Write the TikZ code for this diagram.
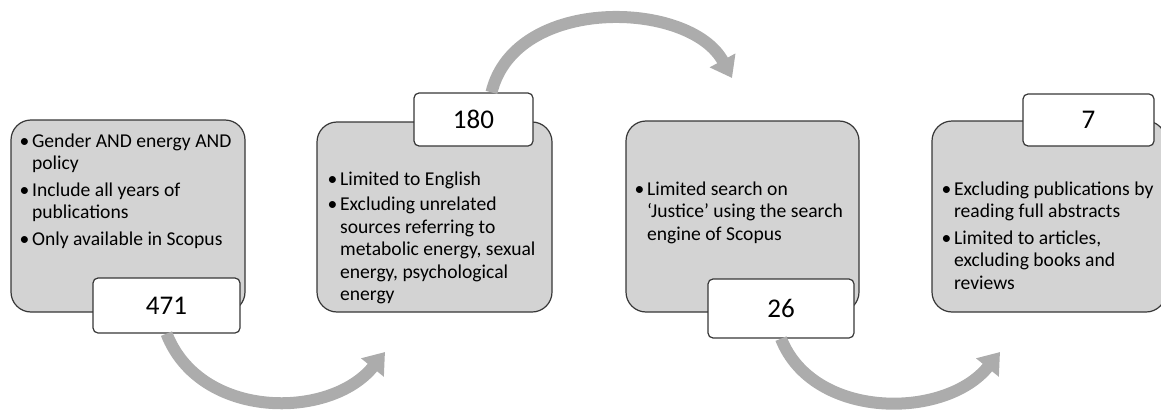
\documentclass[tikz,border=0pt]{standalone}
\usepackage{fontspec}
\setmainfont{Carlito}
\usetikzlibrary{arrows.meta,calc}
\definecolor{stagefill}{RGB}{211,211,211}
\definecolor{stageline}{RGB}{55,55,55}
\definecolor{flowgray}{RGB}{172,172,172}
\newcommand\bul[1]{\makebox[12.5pt][l]{\textbullet}\begin{tabular}[t]{@{}l@{}}#1\end{tabular}}
\tikzset{
  stage/.style ={draw=stageline, fill=stagefill, line width=1.2pt, rounded corners=20pt, inner sep=0pt},
  count/.style ={draw=stageline, fill=white, line width=1.2pt, rounded corners=5pt, inner sep=0pt, font=\fontsize{27}{30}\selectfont},
  note/.style  ={align=left, inner sep=0pt, anchor=north west, font=\fontsize{19.6}{22.5}\selectfont},
  flow/.style  ={draw=flowgray, line width=12pt, -{Triangle[length=20pt,width=28pt]}},
}

\begin{document}
\begin{tikzpicture}[x=1pt,y=-1pt]
  \useasboundingbox (0,0) rectangle (1161,412);
  \clip (0,0) rectangle (1161,412);
  % stages
  \node[stage, minimum width=234pt, minimum height=192pt] (s1) at (128,216) {};
  \node[stage, minimum width=235pt, minimum height=190pt] (s2) at (434.5,217) {};
  \node[stage, minimum width=233pt, minimum height=191pt] (s3) at (742.5,216.5) {};
  \node[stage, minimum width=234pt, minimum height=191pt] (s4) at (1049,216.5) {};
  % texts
  \node[note] (t1) at ($(s1.north west)+(9,12)$)
    {\bul{Gender AND energy AND\\policy}\\[3pt]
     \bul{Include all years of\\publications}\\[3pt]
     \bul{Only available in Scopus}};
  \node[note] (t2) at ($(s2.north west)+(11,48)$)
    {\bul{Limited to English}\\[3pt]
     \bul{Excluding unrelated\\sources referring to\\metabolic energy, sexual\\energy, psychological\\energy}};
  \node[note] (t3) at ($(s3.north west)+(9,59)$)
    {\bul{Limited search on\\`Justice' using the search\\engine of Scopus}};
  \node[note] (t4) at ($(s4.north west)+(10,59)$)
    {\bul{Excluding publications by\\reading full abstracts}\\[3pt]
     \bul{Limited to articles,\\excluding books and\\reviews}};
  % counts
  \node[count, minimum width=147pt, minimum height=55pt] (n471) at (166.5,305.5) {471};
  \node[count, minimum width=119pt, minimum height=53pt] (n180) at (473.5,119.5) {180};
  \node[count, minimum width=146pt, minimum height=59pt] (n26) at (781,308.5) {26};
  \node[count, minimum width=131pt, minimum height=52pt] (n7) at (1088.5,120) {7};
  % arrows
  \coordinate (e1) at (385,352);
  \coordinate (e2) at (732,78);
  \coordinate (e3) at (1000,352);
  \draw[flow] (n471.south) .. controls (200,420) and (330,420) .. (e1);
  \draw[flow] ($(n180.north)+(18,0)$) .. controls (515,-5) and (690,0) .. (e2);
  \draw[flow] (n26.south) .. controls (813,420) and (945,420) .. (e3);
\end{tikzpicture}
\end{document}
